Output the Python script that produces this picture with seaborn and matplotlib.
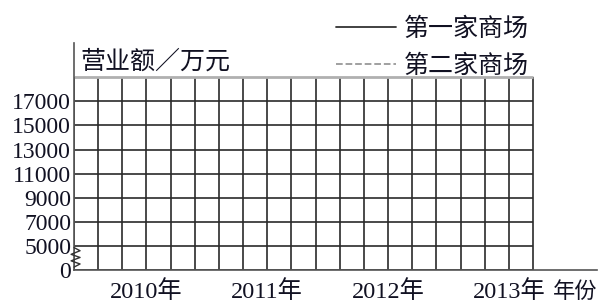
import matplotlib
matplotlib.use("Agg")
import matplotlib.pyplot as plt
import seaborn as sns
from matplotlib.lines import Line2D

# ---- data (a blank answer grid) ----
years = ["2010年", "2011年", "2012年", "2013年"]
y_tick_labels = ["0", "5000", "7000", "9000", "11000", "13000", "15000", "17000"]
series_names = ["第一家商场", "第二家商场"]
series_styles = ["-", "--"]
y_title = "营业额／万元"
x_title = "年份"

n_cols = 19
n_rows = 8
cols_per_year = 5
first_year_col = 3

sns.set_theme(style="white")
plt.rcParams["font.family"] = ["Liberation Serif", "Noto Sans CJK SC", "DejaVu Sans"]
plt.rcParams["axes.unicode_minus"] = False

fig = plt.figure(figsize=(6.0, 3.05), dpi=100)
ax = fig.add_axes([74 / 600, 35 / 305, 523 / 600, 227 / 305])
ax.set_xlim(0, 523 / 24.16)
ax.set_ylim(0, 227 / 24.1)

grid_color = "#2a2a2a"
for c in range(n_cols + 1):
    ax.plot([c, c], [0, n_rows], color=grid_color, lw=1.2, solid_capstyle="butt", zorder=1)
for r in range(n_rows):
    ax.plot([0, n_cols], [r, r], color=grid_color, lw=1.2, solid_capstyle="butt", zorder=1)
ax.plot([0, n_cols], [n_rows, n_rows], color="#b0b0b0", lw=2.0, solid_capstyle="butt", zorder=1)

sns.despine(ax=ax, top=True, right=True)
for s in ("left", "bottom"):
    ax.spines[s].set_color("#555555")
    ax.spines[s].set_linewidth(1.2)

# y ticks
ax.set_yticks(range(len(y_tick_labels)))
ax.set_yticklabels(y_tick_labels, fontsize=17, color="#111122")
# x ticks
ax.set_xticks([first_year_col + cols_per_year * i for i in range(len(years))])
ax.set_xticklabels(years, fontsize=17.5, color="#111122")
ax.tick_params(axis="both", length=0)
ax.tick_params(axis="y", pad=2)
ax.tick_params(axis="x", pad=7)

# axis break zigzag
zx = [0.0, 0.25, -0.12, 0.25, -0.12, 0.25, 0.0]
zy = [0.93, 0.8, 0.65, 0.52, 0.38, 0.25, 0.12]
ax.plot(zx, zy, color="#333333", lw=1.0, clip_on=False, zorder=3)

# titles
fig.text(80 / 600, 1 - 62 / 305, y_title, fontsize=18, color="#111122",
         ha="left", va="center", family=["Noto Sans CJK SC"])
fig.text(553 / 600, 1 - 291 / 305, x_title, fontsize=16, color="#111122",
         ha="left", va="center", family=["Noto Sans CJK SC"])

# legend
handles = [Line2D([], [], color=("#333333" if st == "-" else "#999999"), lw=1.3, linestyle=st)
           for st in series_styles]
leg = fig.legend(handles, series_names, loc="upper left",
                 bbox_to_anchor=(336 / 600, 1 - 16 / 305), frameon=False,
                 prop={"family": "Noto Sans CJK SC", "size": 18},
                 handlelength=2.4, handletextpad=0.3, labelspacing=0.42,
                 borderaxespad=0, borderpad=0)
for t in leg.get_texts():
    t.set_color("#111122")

fig.savefig("out.png", dpi=100)
